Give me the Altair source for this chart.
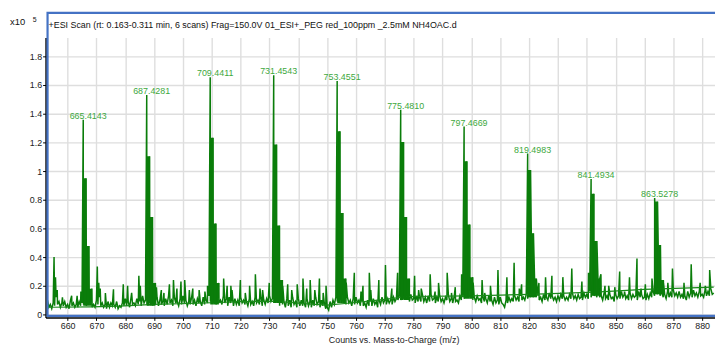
import altair as alt
import pandas as pd

# ---- data (intensities in units of 1e5 counts) ----
# noise floor, sampled every 0.5 m/z from 653.0 (one row = 10 m/z)
noise_start_mz = 653.0
noise_step = 0.5
noise_values = [
    0.10, 0.05, 0.07, 0.04, 0.08, 0.06, 0.12, 0.07, 0.09, 0.05, 0.08, 0.06, 0.09, 0.05, 0.07, 0.04, 0.10, 0.06, 0.08, 0.05,
    0.07, 0.05, 0.09, 0.06, 0.08, 0.07, 0.10, 0.06, 0.12, 0.08, 0.09, 0.05, 0.07, 0.05, 0.10, 0.07, 0.12, 0.06, 0.08, 0.05,
    0.07, 0.04, 0.09, 0.05, 0.08, 0.06, 0.07, 0.05, 0.09, 0.04, 0.06, 0.05, 0.08, 0.06, 0.11, 0.06, 0.09, 0.05, 0.12, 0.07,
    0.08, 0.06, 0.11, 0.07, 0.09, 0.06, 0.13, 0.08, 0.10, 0.07, 0.12, 0.08, 0.10, 0.06, 0.09, 0.07, 0.12, 0.06, 0.10, 0.07,
    0.09, 0.06, 0.11, 0.07, 0.13, 0.08, 0.10, 0.06, 0.12, 0.08, 0.09, 0.06, 0.11, 0.07, 0.13, 0.08, 0.10, 0.06, 0.09, 0.07,
    0.12, 0.07, 0.10, 0.06, 0.11, 0.08, 0.09, 0.06, 0.12, 0.07, 0.10, 0.08, 0.13, 0.09, 0.14, 0.08, 0.11, 0.07, 0.12, 0.08,
    0.10, 0.07, 0.13, 0.08, 0.11, 0.06, 0.12, 0.08, 0.09, 0.06, 0.11, 0.07, 0.10, 0.06, 0.12, 0.08, 0.10, 0.07, 0.09, 0.06,
    0.11, 0.07, 0.09, 0.06, 0.12, 0.08, 0.10, 0.07, 0.12, 0.06, 0.10, 0.07, 0.11, 0.08, 0.13, 0.09, 0.11, 0.08, 0.14, 0.09,
    0.10, 0.06, 0.12, 0.07, 0.09, 0.05, 0.11, 0.06, 0.10, 0.05, 0.12, 0.07, 0.09, 0.05, 0.11, 0.06, 0.10, 0.06, 0.08, 0.05,
    0.11, 0.06, 0.09, 0.05, 0.10, 0.06, 0.12, 0.07, 0.09, 0.05, 0.10, 0.06, 0.08, 0.04, 0.05, 0.03, 0.09, 0.05, 0.10, 0.07,
    0.12, 0.09, 0.13, 0.10, 0.14, 0.09, 0.11, 0.07, 0.12, 0.08, 0.10, 0.06, 0.11, 0.07, 0.12, 0.08, 0.10, 0.06, 0.09, 0.06,
    0.08, 0.05, 0.10, 0.06, 0.09, 0.06, 0.11, 0.07, 0.09, 0.05, 0.10, 0.07, 0.12, 0.08, 0.10, 0.07, 0.11, 0.08, 0.10, 0.07,
    0.12, 0.09, 0.11, 0.10, 0.13, 0.10, 0.15, 0.11, 0.13, 0.10, 0.12, 0.09, 0.14, 0.10, 0.11, 0.08, 0.13, 0.09, 0.12, 0.09,
    0.14, 0.09, 0.12, 0.08, 0.13, 0.09, 0.14, 0.10, 0.11, 0.08, 0.12, 0.09, 0.13, 0.09, 0.11, 0.08, 0.12, 0.10, 0.14, 0.09,
    0.11, 0.08, 0.12, 0.09, 0.10, 0.08, 0.13, 0.10, 0.12, 0.11, 0.15, 0.12, 0.17, 0.12, 0.14, 0.10, 0.12, 0.09, 0.13, 0.10,
    0.11, 0.08, 0.12, 0.09, 0.11, 0.08, 0.13, 0.09, 0.10, 0.07, 0.12, 0.08, 0.10, 0.07, 0.12, 0.08, 0.07, 0.05, 0.10, 0.08,
    0.12, 0.09, 0.11, 0.09, 0.13, 0.10, 0.12, 0.09, 0.13, 0.10, 0.12, 0.10, 0.14, 0.11, 0.16, 0.12, 0.15, 0.12, 0.16, 0.12,
    0.13, 0.10, 0.12, 0.09, 0.14, 0.10, 0.12, 0.10, 0.15, 0.11, 0.13, 0.10, 0.12, 0.09, 0.13, 0.10, 0.14, 0.11, 0.13, 0.10,
    0.12, 0.10, 0.14, 0.11, 0.15, 0.11, 0.13, 0.10, 0.14, 0.11, 0.12, 0.10, 0.15, 0.12, 0.14, 0.11, 0.16, 0.12, 0.17, 0.13,
    0.15, 0.12, 0.16, 0.12, 0.13, 0.10, 0.15, 0.11, 0.13, 0.10, 0.14, 0.11, 0.12, 0.09, 0.14, 0.11, 0.13, 0.11, 0.16, 0.12,
    0.14, 0.11, 0.13, 0.10, 0.15, 0.11, 0.14, 0.12, 0.13, 0.10, 0.16, 0.12, 0.14, 0.11, 0.12, 0.10, 0.14, 0.11, 0.15, 0.12,
    0.16, 0.13, 0.18, 0.14, 0.17, 0.13, 0.15, 0.12, 0.14, 0.11, 0.16, 0.12, 0.15, 0.12, 0.17, 0.13, 0.15, 0.12, 0.16, 0.12,
    0.14, 0.11, 0.13, 0.10, 0.16, 0.12, 0.15, 0.12, 0.17, 0.13, 0.15, 0.12, 0.16, 0.13, 0.14, 0.12, 0.17, 0.13, 0.16, 0.13,
    0.18, 0.14, 0.15,
]

# minor (unlabelled) ions
spike_mz = [
    655.3, 655.8, 656.4, 661.4, 664.6, 670.3, 670.8, 675.9, 679.3, 680.8,
    684.7, 685.2, 689.6, 693.4, 695.3, 696.7, 699.3, 700.6, 703.4, 705.6,
    707.6, 714.1, 716.6, 719.9, 723.1, 725.1, 727.6, 729.9, 733.6, 736.3,
    739.6, 741.6, 744.1, 747.3, 749.6, 756.6, 759.4, 762.4, 764.6, 767.9,
    770.2, 772.4, 774.4, 777.6, 780.3, 782.6, 785.7, 788.6, 791.6, 794.4,
    796.6, 800.6, 803.7, 806.6, 809.2, 812.3, 814.8, 817.4, 819.1, 823.4,
    825.7, 827.9, 831.7, 834.8, 838.3, 840.6, 844.9, 847.6, 851.4, 854.8,
    857.4, 860.3, 862.6, 866.6, 869.7, 873.7, 876.2, 879.3, 882.6,
]
spike_int = [
    0.40, 0.26, 0.17, 0.13, 0.16, 0.335, 0.22, 0.175, 0.21, 0.20,
    0.27, 0.20, 0.20, 0.15, 0.21, 0.24, 0.23, 0.24, 0.18, 0.17,
    0.16, 0.25, 0.20, 0.24, 0.20, 0.28, 0.17, 0.22, 0.20, 0.21,
    0.21, 0.25, 0.24, 0.25, 0.20, 0.22, 0.29, 0.20, 0.29, 0.24,
    0.345, 0.18, 0.29, 0.22, 0.27, 0.18, 0.28, 0.22, 0.29, 0.19,
    0.28, 0.22, 0.24, 0.20, 0.31, 0.26, 0.36, 0.21, 0.26, 0.22,
    0.26, 0.27, 0.26, 0.32, 0.23, 0.29, 0.28, 0.20, 0.30, 0.26,
    0.39, 0.21, 0.25, 0.22, 0.32, 0.22, 0.35, 0.22, 0.31,
]
# smaller bumps in the noise band
bump_mz = [658.2, 663.3, 667.9, 671.3, 673.1, 682.2, 690.8, 692.5, 697.9, 702.2,
           708.5, 711.3, 715.3, 717.0, 721.6, 726.7, 734.6, 737.7, 742.9, 745.7,
           748.6, 755.4, 761.7, 765.1, 781.7, 787.4, 793.1, 804.6, 816.6, 822.3,
           846.3, 849.7, 853.1, 858.8, 865.7, 868.1, 881.1]
bump_int = [0.12, 0.13, 0.16, 0.18, 0.15, 0.15, 0.19, 0.17, 0.18, 0.17,
            0.20, 0.20, 0.20, 0.17, 0.15, 0.18, 0.20, 0.17, 0.18, 0.17,
            0.15, 0.18, 0.16, 0.17, 0.17, 0.16, 0.15, 0.15, 0.18, 0.17,
            0.20, 0.19, 0.16, 0.18, 0.20, 0.22, 0.20]

# labelled PEG ions: monoisotopic m/z and isotope intensities M, M+1, M+2, M+3
peak_mz = [665.4143, 687.4281, 709.4411, 731.4543, 753.4551,
           775.4810, 797.4669, 819.4983, 841.4934, 863.5278]
peak_labels = ["665.4143", "687.4281", "709.4411", "731.4543", "753.4551",
               "775.4810", "797.4669", "819.4983", "841.4934", "863.5278"]
iso_m0 = [1.357, 1.531, 1.655, 1.669, 1.628, 1.428, 1.310, 1.122, 0.945, 0.812]
iso_m1 = [0.950, 1.103, 1.232, 1.186, 1.278, 1.202, 1.069, 1.007, 0.841, 0.788]
iso_m2 = [0.478, 0.680, 0.634, 0.620, 0.708, 0.680, 0.628, 0.566, 0.512, 0.485]
iso_m3 = [0.180, 0.220, 0.220, 0.240, 0.250, 0.250, 0.260, 0.250, 0.250, 0.240]
iso_floor = [0.06, 0.06, 0.07, 0.08, 0.08, 0.10, 0.11, 0.12, 0.13, 0.14]
iso_step = 1.0034

# smooth second trace
baseline_mz = [653.5, 668, 678, 690, 705, 720, 732, 742, 750, 758, 770, 778, 800, 820, 843, 860, 884]
baseline_int = [0.050, 0.053, 0.058, 0.070, 0.078, 0.090, 0.092, 0.075, 0.065, 0.080,
                0.105, 0.125, 0.130, 0.140, 0.155, 0.175, 0.190]

x_ticks = list(range(660, 881, 10))
y_ticks = [0, 0.2, 0.4, 0.6, 0.8, 1.0, 1.2, 1.4, 1.6, 1.8]

scan_title = "+ESI Scan (rt: 0.163-0.311 min, 6 scans) Frag=150.0V 01_ESI+_PEG red_100ppm _2.5mM NH4OAC.d"
x_title = "Counts vs. Mass-to-Charge (m/z)"

# ---- assemble the profile trace ----
rows = [(noise_start_mz + i * noise_step, v) for i, v in enumerate(noise_values)]
rows += list(zip(spike_mz, spike_int))
rows += list(zip(bump_mz, bump_int))
iso_rows = []
for m, a, b, c, d, f in zip(peak_mz, iso_m0, iso_m1, iso_m2, iso_m3, iso_floor):
    vals = [a, b, c, d]
    for j, v in enumerate(vals):
        rows.append((m + j * iso_step, v))
        if j > 0:
            iso_rows.append((m + (j - 1) * iso_step, m + j * iso_step, v, f))
spec = pd.DataFrame(rows, columns=["mz", "counts"]).sort_values("mz").reset_index(drop=True)
spec["idx"] = range(len(spec))
iso = pd.DataFrame(iso_rows, columns=["mz", "mz2", "counts", "floor"])

base = pd.DataFrame({"mz": baseline_mz, "counts": baseline_int})
peaks = pd.DataFrame({"mz": peak_mz, "counts": iso_m0, "label": peak_labels})

FONT = "Liberation Sans"
GREEN = "#0a7d0a"
W, H = 677, 283
xs = alt.Scale(domain=[652.36, 884.45], nice=False, zero=False)
ys = alt.Scale(domain=[-0.0207, 1.931], nice=False, zero=False)

x_axis = alt.Axis(
    values=x_ticks, format="d", title=x_title, grid=True, labelOverlap=False,
    titleX=352, titleY=25, titleBaseline="alphabetic", titleAlign="center")
y_axis = alt.Axis(values=y_ticks, format="~g", title=None, grid=True, labelOverlap=False)
x_enc = alt.X("mz:Q", scale=xs, axis=x_axis)
y_enc = alt.Y("counts:Q", scale=ys, axis=y_axis)

frame = alt.Chart(pd.DataFrame({"k": [0]})).mark_rect(
    fillOpacity=0, stroke="#4472C4", strokeWidth=2.2
).encode(x=alt.value(2), x2=alt.value(W + 20), y=alt.value(-25), y2=alt.value(H - 1.5))

line = alt.Chart(spec).mark_line(color=GREEN, strokeWidth=1.5, clip=True).encode(
    x=x_enc, y=y_enc, order="idx:Q")

iso_bars = alt.Chart(iso).mark_rect(color=GREEN, clip=True).encode(
    x=x_enc, x2="mz2:Q", y=y_enc, y2="floor:Q")

base_line = alt.Chart(base).mark_line(color="#1a8a1a", strokeWidth=1.2, clip=True).encode(
    x=x_enc, y=y_enc)

labels = alt.Chart(peaks).mark_text(
    color="#3da83d", font=FONT, fontSize=9, align="center", baseline="bottom", dx=5, dy=1
).encode(x=x_enc, y=y_enc, text="label:N")

title_txt = alt.Chart(pd.DataFrame({"k": [0]})).mark_text(
    text=scan_title, font=FONT, fontSize=9, align="left", baseline="alphabetic", color="#111"
).encode(x=alt.value(3), y=alt.value(-10))

x10 = alt.Chart(pd.DataFrame({"k": [0]})).mark_text(
    text="x10", font=FONT, fontSize=9.5, align="left", baseline="alphabetic", color="#111"
).encode(x=alt.value(-36), y=alt.value(-13))

exp5 = alt.Chart(pd.DataFrame({"k": [0]})).mark_text(
    text="5", font=FONT, fontSize=7, align="left", baseline="alphabetic", color="#111"
).encode(x=alt.value(-13), y=alt.value(-16))

chart = alt.layer(line, frame, base_line, iso_bars, labels, title_txt, x10, exp5).properties(
    width=W, height=H,
    autosize=alt.AutoSizeParams(type="none"),
    padding={"left": 38, "top": 28, "right": 0, "bottom": 26},
).configure_view(stroke=None).configure_axis(
    labelFont=FONT, titleFont=FONT, labelFontSize=9, titleFontSize=9,
    labelColor="#222", titleColor="#222", titleFontWeight="normal",
    domainColor="#000", domainWidth=1.5, tickColor="#000", tickSize=3,
    labelPadding=1, gridColor="#dedede", gridWidth=1.4, labelOverlap=False,
)

chart.save("out.html", embed_options={"renderer": "svg", "actions": False})
